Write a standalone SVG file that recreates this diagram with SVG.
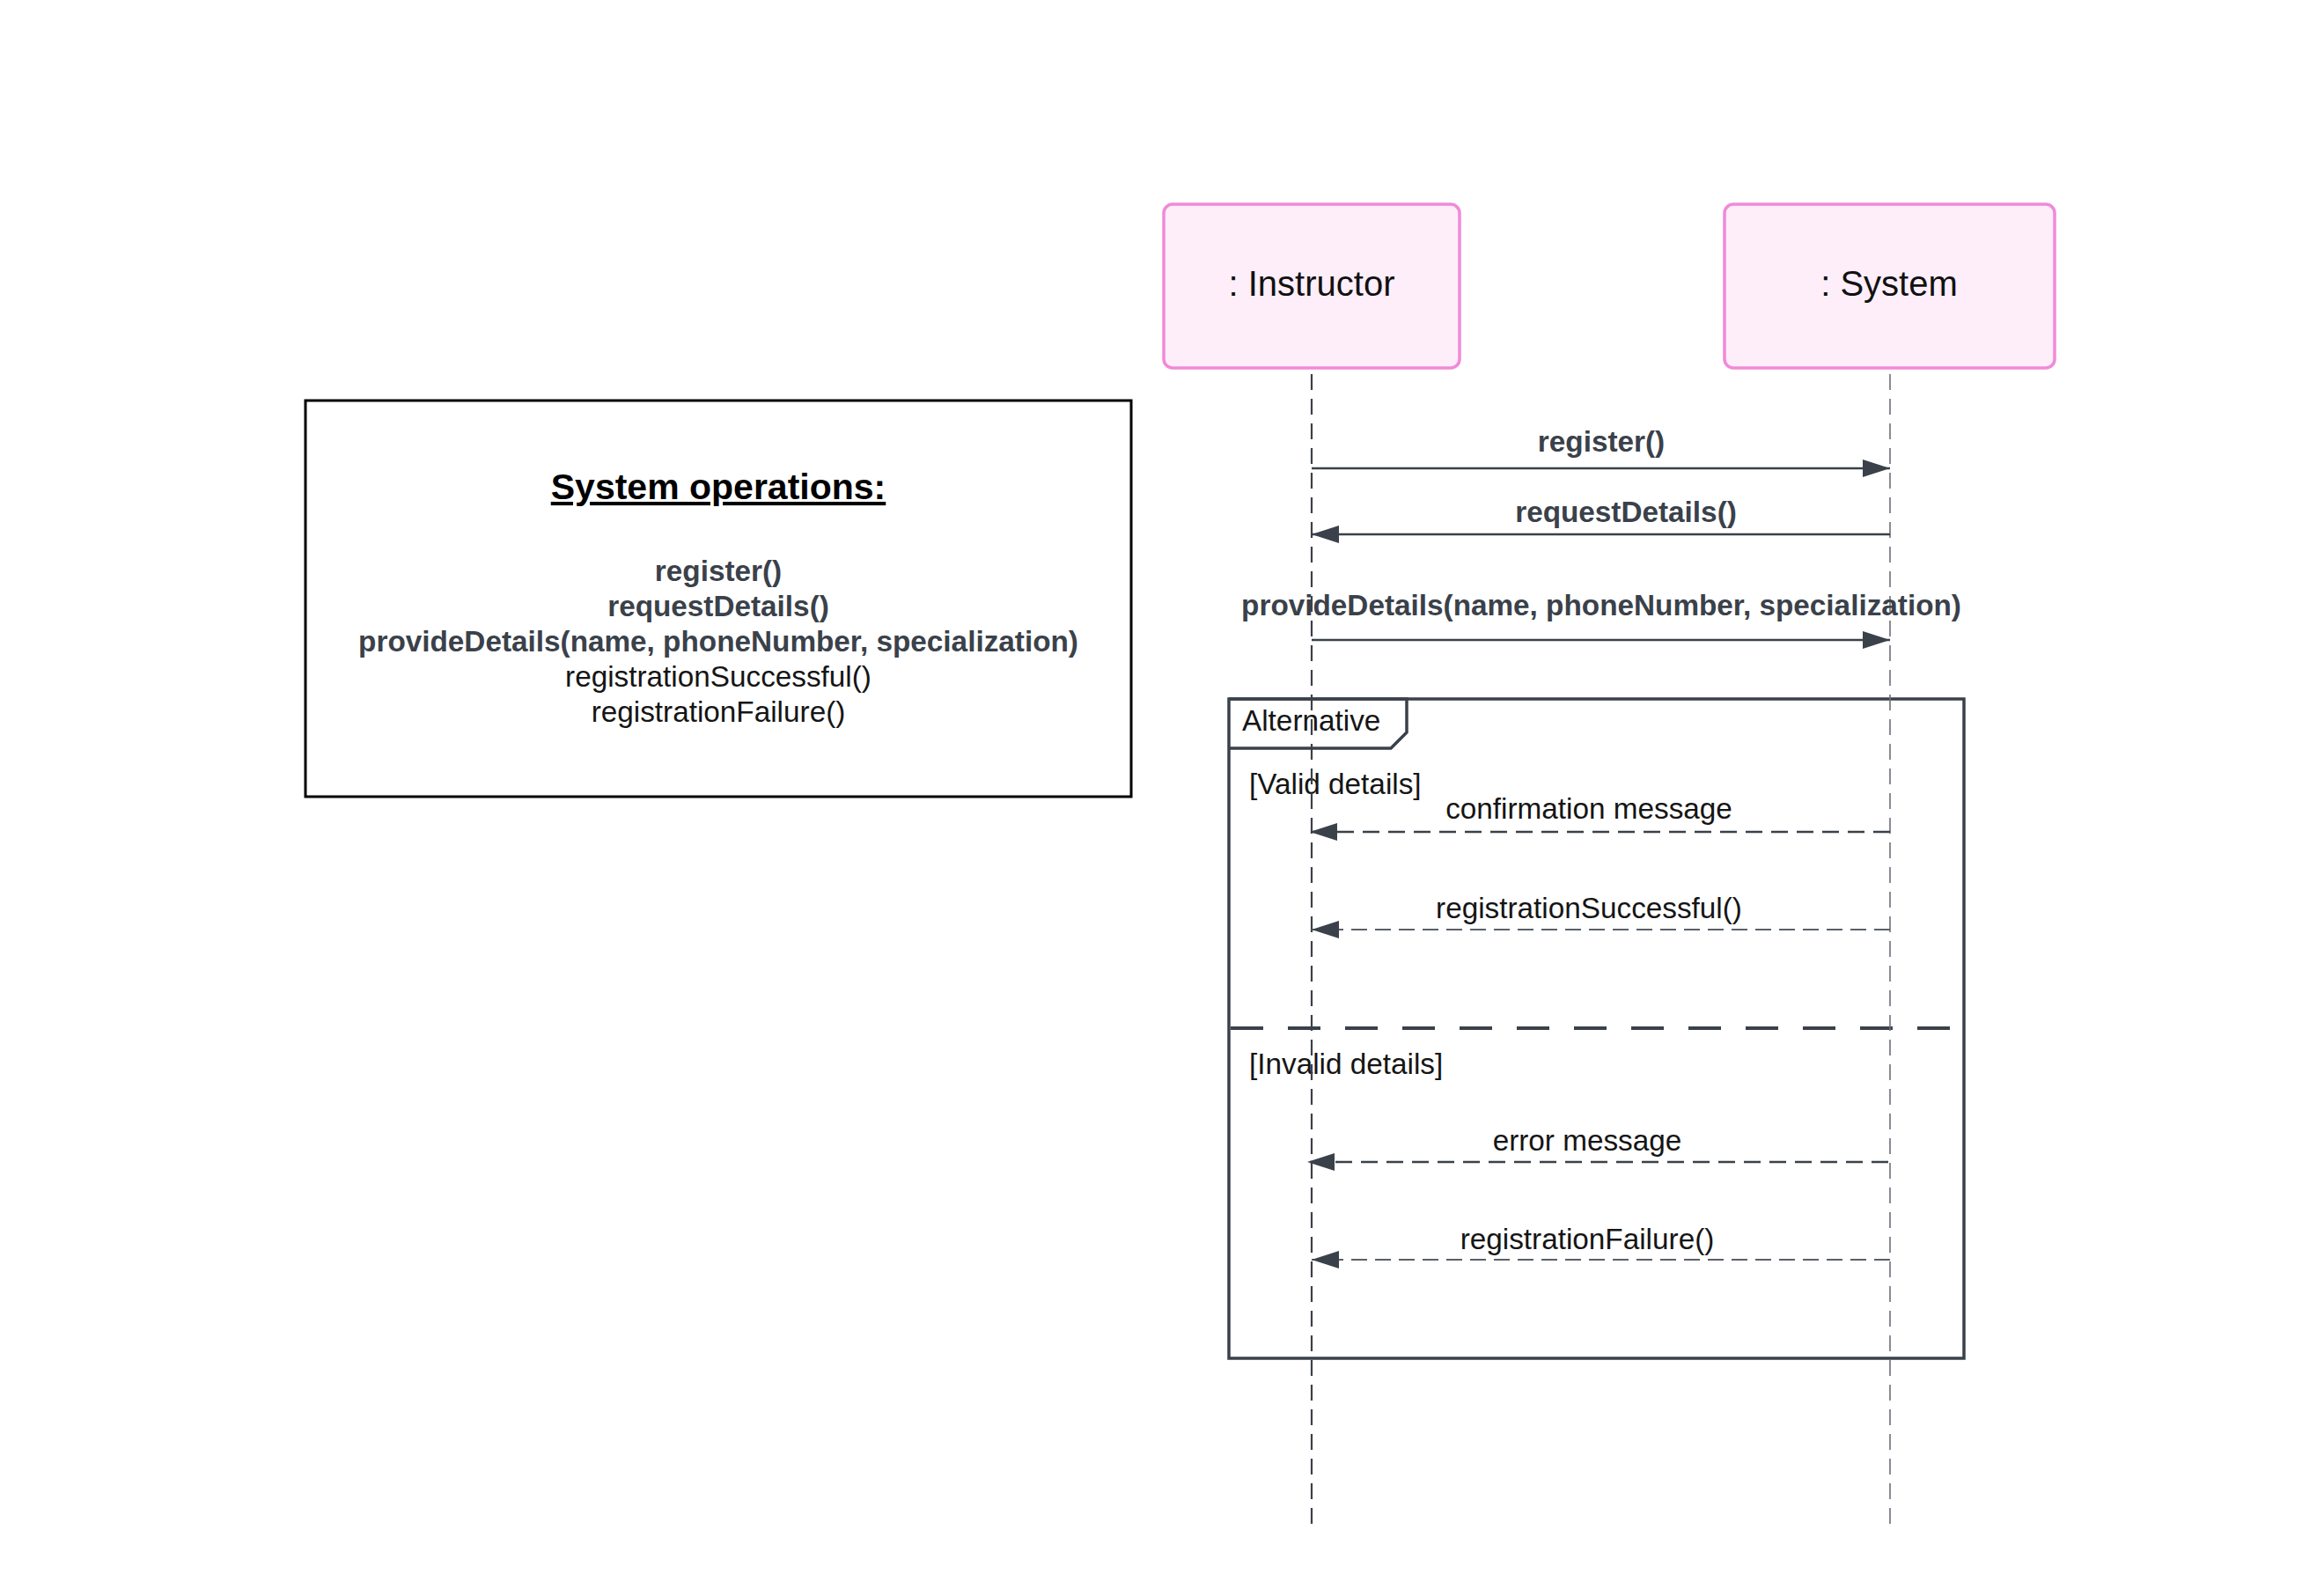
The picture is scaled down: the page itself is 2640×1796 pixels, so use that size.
<svg xmlns="http://www.w3.org/2000/svg" width="2640" height="1796" viewBox="0 0 2640 1796">
<defs>
<style>
.actor{fill:#fdeefa;stroke:#f08ad8;stroke-width:3.5}
.atext{font-family:"Liberation Sans",Arial,sans-serif;font-size:40px;fill:#111;text-anchor:middle}
.life1{stroke:#3a414a;stroke-width:2.2;stroke-dasharray:18 10;stroke-dashoffset:23;fill:none}
.life2{stroke:#6b7078;stroke-width:1.6;stroke-dasharray:18 10;stroke-dashoffset:23;fill:none}
.msg{stroke:#3a414a;stroke-width:2.5;fill:none}
.ret{stroke:#3a414a;stroke-width:2.5;stroke-dasharray:19 10;fill:none}
.ret2{stroke:#5a6068;stroke-width:1.8;stroke-dasharray:18 9;fill:none}
.mlab{font-family:"Liberation Sans",Arial,sans-serif;font-size:33.3px;font-weight:bold;fill:#3a414a;text-anchor:middle}
.rlab{font-family:"Liberation Sans",Arial,sans-serif;font-size:33.3px;fill:#151515;text-anchor:middle}
.ftext{font-family:"Liberation Sans",Arial,sans-serif;font-size:33.3px;fill:#151515}
.frame{fill:none;stroke:#3a414a;stroke-width:3.5}
</style>
<marker id="ah" markerUnits="userSpaceOnUse" markerWidth="31" markerHeight="20" refX="31" refY="10" orient="auto">
<path d="M0,0 L31,10 L0,20 z" fill="#3a414a"/>
</marker>
</defs>
<rect width="2640" height="1796" fill="#ffffff"/>

<g id="system-operations">
<rect x="347" y="455" width="938" height="450" fill="none" stroke="#000" stroke-width="3"/>
<text x="816" y="567" font-family="'Liberation Sans',Arial,sans-serif" font-size="41" font-weight="bold" fill="#000" text-anchor="middle" text-decoration="underline">System operations:</text>
<text x="816" y="660" class="mlab">register()</text>
<text x="816" y="700" class="mlab">requestDetails()</text>
<text x="816" y="740" class="mlab">provideDetails(name, phoneNumber, specialization)</text>
<text x="816" y="780" class="rlab">registrationSuccessful()</text>
<text x="816" y="820" class="rlab">registrationFailure()</text>
</g>

<g id="alt-frame">
<rect x="1396" y="794" width="835" height="749" class="frame"/>
<path d="M1396,794 L1598,794 L1598,832 L1580,850 L1396,850" class="frame"/>
<text x="1411" y="830" class="ftext">Alternative</text>
<text x="1419" y="902" class="ftext">[Valid details]</text>
<line x1="1398" y1="1168" x2="2224" y2="1168" stroke="#3a414a" stroke-width="4" stroke-dasharray="37 28"/>
<text x="1419" y="1220" class="ftext">[Invalid details]</text>
</g>

<g id="instructor">
<rect x="1322" y="232" width="336" height="186" rx="10" class="actor"/>
<text x="1490" y="336" class="atext">: Instructor</text>
</g>
<g id="system">
<rect x="1959" y="232" width="375" height="186" rx="10" class="actor"/>
<text x="2146" y="336" class="atext">: System</text>
</g>

<g id="lifelines">
<line x1="1490" y1="420" x2="1490" y2="1731" class="life1"/>
<line x1="2147" y1="420" x2="2147" y2="1731" class="life2"/>
</g>

<g id="connectors">
<line x1="1490" y1="532" x2="2147" y2="532" class="msg" marker-end="url(#ah)"/>
<text x="1819" y="513" class="mlab">register()</text>
<line x1="2147" y1="607" x2="1490" y2="607" class="msg" marker-end="url(#ah)"/>
<text x="1847" y="593" class="mlab">requestDetails()</text>
<line x1="1490" y1="727" x2="2147" y2="727" class="msg" marker-end="url(#ah)"/>
<text x="1819" y="699" class="mlab">provideDetails(name, phoneNumber, specialization)</text>
<line x1="2147" y1="945" x2="1488" y2="945" class="ret" marker-end="url(#ah)"/>
<text x="1805" y="930" class="rlab">confirmation message</text>
<line x1="2147" y1="1056" x2="1490" y2="1056" class="ret2" marker-end="url(#ah)"/>
<text x="1805" y="1043" class="rlab">registrationSuccessful()</text>
<line x1="2145" y1="1320" x2="1485" y2="1320" class="ret" marker-end="url(#ah)"/>
<text x="1803" y="1307" class="rlab">error message</text>
<line x1="2147" y1="1431" x2="1490" y2="1431" class="ret2" marker-end="url(#ah)"/>
<text x="1803" y="1419" class="rlab">registrationFailure()</text>
</g>
</svg>
